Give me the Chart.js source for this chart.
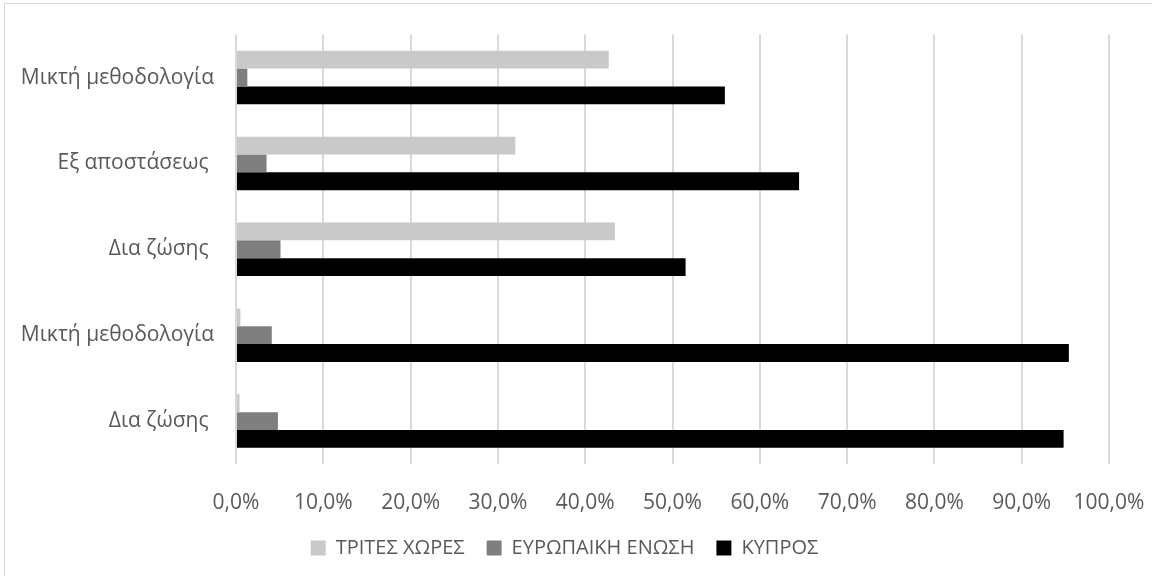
<!DOCTYPE html>
<html>
<head>
<meta charset="utf-8">
<script src="https://cdn.jsdelivr.net/npm/chart.js@4/dist/chart.umd.min.js"></script>
<style>
    html, body { margin: 0; padding: 0; background: #fff; overflow: hidden; }
    #wrap { position: relative; width: 1152px; height: 576px; overflow: hidden; }
    #frame { position: absolute; left: 4px; top: 3px; width: 1200px; height: 700px; border: 1px solid #d9d9d9; box-sizing: border-box; pointer-events: none; }
    canvas { position: absolute; left: 0; top: 0; }
</style>
</head>
<body>
<div id="wrap">
    <canvas id="chart" width="1152" height="576"></canvas>
    <div id="frame"></div>
</div>
<script>
const categories = ['Μικτή μεθοδολογία', 'Εξ αποστάσεως ', 'Δια ζώσης ', 'Μικτή μεθοδολογία', 'Δια ζώσης '];
const tritesXores = [42.7, 32.0, 43.4, 0.5, 0.4];
const eurEnosi = [1.3, 3.5, 5.1, 4.1, 4.8];
const kypros = [56.0, 64.5, 51.5, 95.4, 94.8];
const seriesNames = ['ΤΡΙΤΕΣ ΧΩΡΕΣ', 'ΕΥΡΩΠΑΙΚΗ ΕΝΩΣΗ', 'ΚΥΠΡΟΣ'];

const textColor = '#595959';
const gridColor = '#d9d9d9';

const ctx = document.getElementById('chart').getContext('2d');
new Chart(ctx, {
    type: 'bar',
    data: {
        labels: categories,
        datasets: [
            { label: seriesNames[0], data: tritesXores, backgroundColor: '#c9c9c9' },
            { label: seriesNames[1], data: eurEnosi, backgroundColor: '#7f7f7f' },
            { label: seriesNames[2], data: kypros, backgroundColor: '#000000' }
        ]
    },
    options: {
        indexAxis: 'y',
        responsive: false,
        animation: false,
        datasets: { bar: { barPercentage: 1, categoryPercentage: 0.624 } },
        layout: { padding: { top: 31, right: 43, bottom: 8, left: 20 } },
        plugins: {
            legend: {
                position: 'bottom',
                labels: {
                    boxWidth: 15, boxHeight: 15, padding: 22,
                    color: textColor,
                    font: { family: 'Open Sans', size: 20 }
                }
            },
            tooltip: { enabled: false }
        },
        scales: {
            x: {
                min: 0, max: 100,
                ticks: {
                    stepSize: 10,
                    padding: 26,
                    color: textColor,
                    font: { family: 'Open Sans', size: 21 },
                    callback: v => v.toFixed(1).replace('.', ',') + '%'
                },
                grid: { color: gridColor, lineWidth: 2, drawTicks: false },
                border: { display: false },
                // fixed height, and let the end labels hang past the plot edges
                afterFit: s => { s.height = 52; s.paddingLeft = 0; s.paddingRight = 0; }
            },
            y: {
                ticks: {
                    padding: 22,
                    color: textColor,
                    font: { family: 'Open Sans', size: 21 }
                },
                grid: { display: false, drawTicks: false },
                border: { display: false },
                afterFit: s => { s.width = 216; }
            }
        }
    }
});
</script>
</body>
</html>
